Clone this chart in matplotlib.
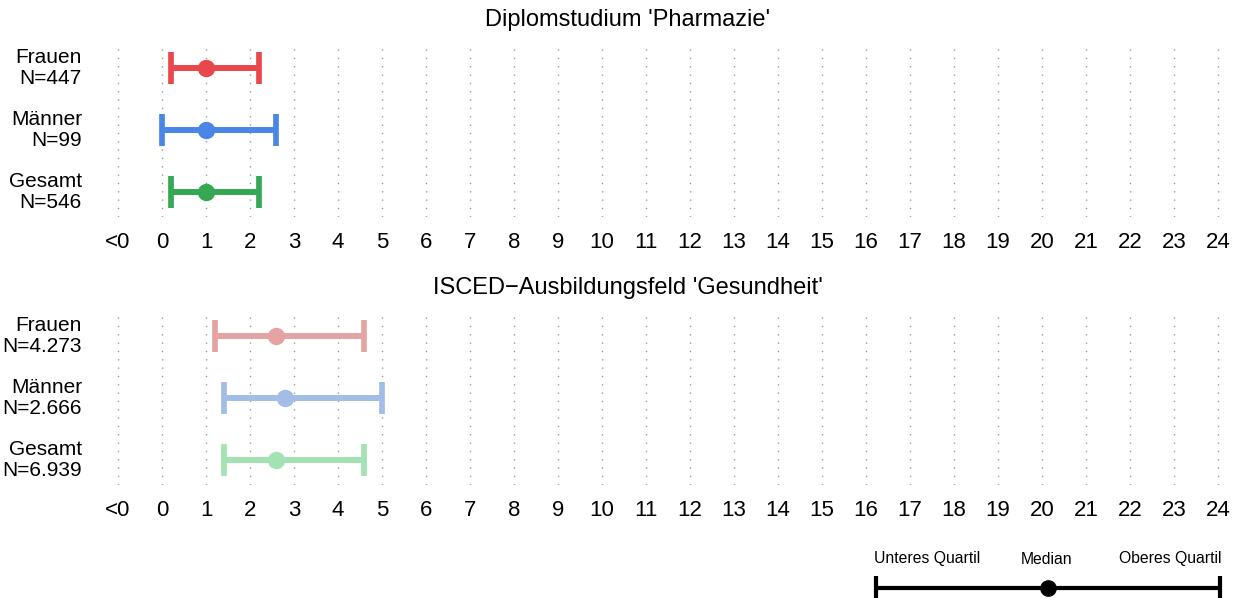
import matplotlib.pyplot as plt

plt.rcParams['font.family'] = ['Liberation Sans', 'DejaVu Sans']

W, H = 1244, 598

# data
groups = ['Frauen', 'Männer', 'Gesamt']
titles = ["Diplomstudium 'Pharmazie'", "ISCED\u2212Ausbildungsfeld 'Gesundheit'"]
n_pharm = ['447', '99', '546']
n_isced = ['4.273', '2.666', '6.939']
pharm_lower = [0.2, 0.0, 0.2]
pharm_median = [1.0, 1.0, 1.0]
pharm_upper = [2.2, 2.6, 2.2]
isced_lower = [1.2, 1.4, 1.4]
isced_median = [2.6, 2.8, 2.6]
isced_upper = [4.6, 5.0, 4.6]
tick_pos = list(range(-1, 25))
tick_labels = ['<0'] + [str(i) for i in range(0, 25)]

dark_cols = ['#E8474C', '#4A86E8', '#34A853']
light_cols = ['#E6A3A3', '#A2BDE6', '#A3E2B2']

fig = plt.figure(figsize=(W / 100, H / 100), dpi=100)


def px_axes(left, top, right, bottom):
    return fig.add_axes([left / W, 1 - bottom / H, (right - left) / W, (bottom - top) / H])


def panel(top, bottom, title, ns, lower, median, upper, cols):
    ax = px_axes(96, top, 1240, bottom)
    ax.set_xlim(-1.5, 24.5)
    ax.set_ylim(0.6, 3.4)
    for x in tick_pos:
        ax.axvline(x, color='#999999', lw=1, ls=(0, (1, 5)), zorder=0)
    for i, g in enumerate(groups):
        y = 3 - i
        ax.errorbar(median[i], y, xerr=[[median[i] - lower[i]], [upper[i] - median[i]]],
                    fmt='o', color=cols[i], ms=11.5, elinewidth=4.3,
                    capsize=11.2, capthick=4.1, clip_on=False)
        ax.text(-1.82, y, g + '\nN=' + ns[i], ha='right', va='center',
                fontsize=15, linespacing=1.12)
    ax.set_xticks(tick_pos)
    ax.set_xticklabels(tick_labels, fontsize=16)
    ax.tick_params(length=0, pad=10.5)
    ax.set_yticks([])
    for s in ax.spines.values():
        s.set_visible(False)
    fig.text(628 / W, 1 - (top - 23) / H, title, ha='center', va='center', fontsize=17)
    return ax


panel(43, 217, titles[0], n_pharm, pharm_lower, pharm_median, pharm_upper, dark_cols)
panel(311, 485, titles[1], n_isced, isced_lower, isced_median, isced_upper, light_cols)

# legend
lg = px_axes(876, 560, 1220, 616)
lg.set_xlim(0, 1)
lg.set_ylim(0, 1)
lg.axis('off')
lg.errorbar(0.5, 0.5, xerr=0.5, fmt='o', color='black', ms=11, elinewidth=3,
            capsize=9, capthick=3, clip_on=False)
fig.text(927 / W, 1 - 559 / H, 'Unteres Quartil', ha='center', va='center', fontsize=11.3)
fig.text(1047 / W, 1 - 559 / H, 'Median', ha='center', va='center', fontsize=11.3)
fig.text(1170 / W, 1 - 559 / H, 'Oberes Quartil', ha='center', va='center', fontsize=11.3)

fig.savefig('out.png', dpi=100)
